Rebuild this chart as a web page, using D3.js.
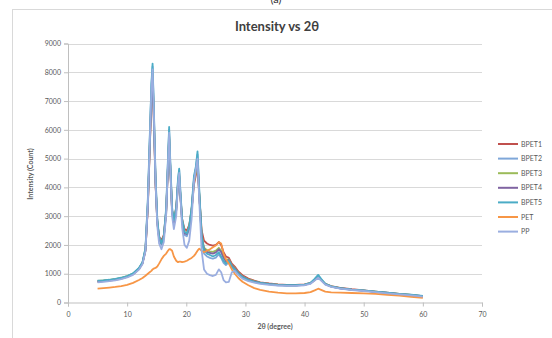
<!DOCTYPE html>
<html><head><meta charset="utf-8">
<script src="https://cdn.jsdelivr.net/npm/d3@7"></script>
<style>body{margin:0;background:#fff}svg{display:block}</style>
</head><body>
<svg id="c" width="552" height="338"></svg>
<script>
const twoTheta = [5,6,7,8,9,10,11,12,12.6,13.1,13.5,13.8,14.1,14.3,14.5,14.8,15.1,15.4,15.8,16.2,16.6,16.9,17.1,17.3,17.6,17.9,18.3,18.6,18.8,19.0,19.3,19.7,20.1,20.5,20.9,21.3,21.6,21.9,22.2,22.6,23.0,23.5,24.0,24.5,25.0,25.5,25.9,26.3,26.7,27.2,27.7,28.2,28.8,29.5,30.5,31.5,32.5,34,35.5,37,38.5,40,41,41.7,42.3,42.8,43.5,44.5,46,48,50,52,54,56,58,60];

const bpet1 = [720,740,760,790,830,890,980,1160,1360,1800,3300,5200,7000,7700,6400,4100,2800,2300,2150,2350,3200,4700,5700,4600,3200,2900,3300,4100,4350,3700,2900,2550,2500,2700,3200,4100,4400,4750,3700,2500,2150,2050,2000,1980,2000,2100,2000,1750,1600,1550,1350,1250,1080,950,830,760,700,660,630,610,610,630,680,780,880,780,650,570,510,460,420,380,340,300,260,220];
const bpet2 = [740,760,780,810,850,910,1000,1190,1390,1870,3500,5500,7500,8200,6800,4300,2850,2250,2000,2250,3200,4900,6000,4800,3200,2750,3200,4250,4600,3850,2800,2350,2300,2550,3200,4300,4650,5150,3800,2200,1700,1600,1550,1520,1560,1680,1550,1380,1300,1400,1220,1120,980,860,770,710,670,630,600,590,590,610,670,800,930,800,640,550,490,440,410,370,330,290,260,220];
const bpet3 = [750,765,785,815,855,915,1005,1180,1380,1850,3400,5300,7200,7900,6600,4200,2800,2250,2080,2300,3150,4750,5800,4700,3200,2800,3250,4150,4450,3750,2850,2450,2420,2650,3250,4200,4500,4850,3750,2350,1900,1820,1780,1760,1800,1900,1800,1600,1480,1500,1300,1200,1040,910,800,740,690,650,620,600,600,620,670,790,900,790,650,560,500,450,415,375,335,295,260,215];
const bpet4 = [730,750,770,800,840,900,990,1170,1370,1820,3350,5250,7100,7800,6500,4150,2780,2220,2050,2280,3100,4700,5750,4650,3150,2750,3200,4100,4400,3700,2800,2400,2380,2600,3200,4250,4600,4950,3700,2300,1850,1760,1720,1700,1740,1850,1750,1550,1420,1480,1280,1180,1020,900,790,730,685,645,615,600,600,615,665,780,890,780,640,555,495,445,410,370,330,290,255,210];
const bpet5 = [760,770,790,820,860,920,1010,1200,1400,1900,3600,5600,7600,8300,6900,4400,2900,2300,2050,2300,3300,5000,6100,4900,3300,2850,3300,4300,4650,3900,2900,2450,2400,2650,3300,4400,4700,5250,3900,2300,1800,1700,1650,1600,1650,1750,1600,1450,1350,1450,1250,1150,1000,880,780,720,680,640,610,600,600,620,680,820,960,820,650,560,500,450,420,380,340,300,270,230];
const pet = [480,500,520,540,570,610,680,780,850,930,1000,1050,1100,1150,1180,1200,1250,1350,1500,1620,1700,1800,1850,1850,1800,1600,1450,1400,1420,1420,1400,1420,1450,1500,1550,1620,1700,1800,1870,1800,1750,1800,1850,1920,1980,2100,2050,1700,1500,1350,1150,1000,850,720,600,500,440,380,340,320,320,330,360,420,480,440,380,350,340,330,320,300,270,240,200,160];
const pp = [700,720,740,770,810,870,960,1140,1340,1780,3400,5400,7400,8100,6700,4200,2650,2050,1850,2100,3050,4800,5900,4700,3000,2550,3000,4100,4500,3700,2600,2000,1900,2150,2900,4200,4600,5000,3500,1800,1150,1000,950,920,960,1150,1050,780,700,720,1050,1100,950,830,740,690,650,610,590,580,580,600,650,760,860,760,620,540,480,435,400,360,320,285,250,205];

const seriesNames = ["BPET1","BPET2","BPET3","BPET4","BPET5","PET","PP"];
const seriesValues = [bpet1,bpet2,bpet3,bpet4,bpet5,pet,pp];
const seriesColors = ["#C0504D","#7FA7D9","#9BBB59","#8064A2","#4BACC6","#F79646","#9AAEE0"];
const yTicks = [0,1000,2000,3000,4000,5000,6000,7000,8000,9000];
const xTicks = [0,10,20,30,40,50,60,70];

const svg = d3.select("#c");
const font = "Lato, 'Open Sans', sans-serif";

svg.append("rect").attr("x",12.5).attr("y",9.5).attr("width",600).attr("height",400)
  .attr("fill","#fff").attr("stroke","#d9d9d9").attr("stroke-width",1);

svg.append("text").attr("x",276).attr("y",3).attr("text-anchor","middle")
  .attr("font-family",font).attr("font-size",11).attr("fill","#333").text("(a)");

const x = d3.scaleLinear().domain([0,70]).range([68,482]);
const y = d3.scaleLinear().domain([0,9000]).range([302.5,43.5]);

// gridlines
svg.append("g").selectAll("line").data(yTicks.filter(d=>d>0)).join("line")
  .attr("x1",x(0)).attr("x2",x(70)).attr("y1",d=>Math.round(y(d))+0.5).attr("y2",d=>Math.round(y(d))+0.5)
  .attr("stroke","#d9d9d9").attr("stroke-width",1);

const yAxis = svg.append("g").attr("transform",`translate(${x(0)},0)`)
  .call(d3.axisLeft(y).tickValues(yTicks).tickSize(4).tickPadding(3).tickFormat(d3.format("d")));
const xAxis = svg.append("g").attr("transform",`translate(0,${y(0)})`)
  .call(d3.axisBottom(x).tickValues(xTicks).tickSize(4).tickPadding(6).tickFormat(d3.format("d")));
[yAxis,xAxis].forEach(a=>{
  a.selectAll("path,line").attr("stroke","#bfbfbf");
  a.selectAll("text").attr("font-family",font).attr("font-size",7).attr("fill","#595959");
});

svg.append("text").attr("x",277).attr("y",31).attr("text-anchor","middle")
  .attr("font-family",font).attr("font-weight","bold").attr("font-size",13).attr("fill","#404040")
  .text("Intensity vs 2θ");
svg.append("text").attr("x",275).attr("y",329).attr("text-anchor","middle")
  .attr("font-family",font).attr("font-weight","bold").attr("font-size",7).attr("fill","#595959")
  .text("2θ (degree)");
svg.append("text").attr("transform","translate(33,174) rotate(-90)").attr("text-anchor","middle")
  .attr("font-family",font).attr("font-weight","bold").attr("font-size",7).attr("fill","#595959")
  .text("Intensity (Count)");

const line = d3.line().x((d,i)=>x(twoTheta[i])).y(d=>y(d));
svg.append("g").selectAll("path").data(seriesValues).join("path")
  .attr("d",d=>line(d)).attr("fill","none")
  .attr("stroke",(d,i)=>seriesColors[i]).attr("stroke-width",1.8).attr("stroke-linejoin","round");

const lg = svg.append("g").selectAll("g").data(seriesNames).join("g")
  .attr("transform",(d,i)=>`translate(498,${144+i*14.6})`);
lg.append("line").attr("x1",0).attr("x2",20).attr("stroke",(d,i)=>seriesColors[i]).attr("stroke-width",2);
lg.append("text").attr("x",23).attr("y",2.5).attr("font-family",font).attr("font-size",7).attr("fill","#595959").text(d=>d);
</script>
</body></html>
